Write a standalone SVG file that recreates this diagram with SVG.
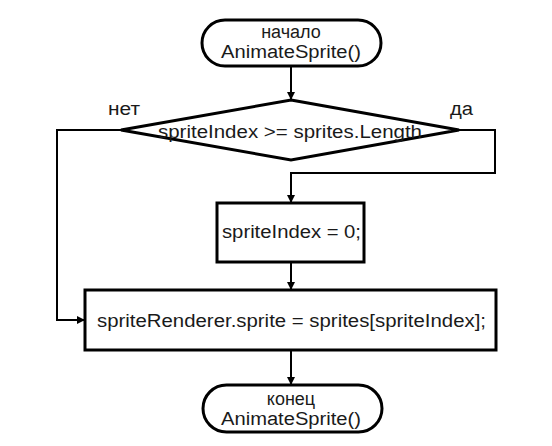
<svg xmlns="http://www.w3.org/2000/svg" width="552" height="446" viewBox="0 0 552 446">
<defs>
<style>
.box{fill:#fff;stroke:#000;stroke-width:3}
.term{fill:#fff;stroke:#000;stroke-width:3}
.conn{fill:none;stroke:#000;stroke-width:2}
text{font-family:"Liberation Sans",Arial,sans-serif;font-size:18px;fill:#1a1a1a}
.c{text-anchor:middle}
</style>
<marker id="arr" viewBox="0 0 8 8" refX="8" refY="4" markerWidth="4" markerHeight="4" orient="auto" markerUnits="strokeWidth">
<path d="M0,0 L8,4 L0,8 Z" fill="#000"/>
</marker>
</defs>
<rect width="552" height="446" fill="#fff"/>
<g id="connectors">
<path class="conn" d="M291,66 V100" marker-end="url(#arr)"/>
<path class="conn" d="M459,130 H495 V173 H291 V203" marker-end="url(#arr)"/>
<path class="conn" d="M121,130 H57 V320 H85" marker-end="url(#arr)"/>
<path class="conn" d="M291,262 V290" marker-end="url(#arr)"/>
<path class="conn" d="M291,350 V385" marker-end="url(#arr)"/>
</g>
<g id="start">
<rect class="term" x="202" y="20" width="179" height="46" rx="23" ry="23"/>
<text class="c" x="291" y="38">начало</text>
<text class="c" x="291" y="58" textLength="140" lengthAdjust="spacingAndGlyphs">AnimateSprite()</text>
</g>
<g id="decision">
<polygon class="box" points="291,100 459,130 291,160 121,130"/>
<text class="c" x="290" y="138" textLength="264" lengthAdjust="spacingAndGlyphs">spriteIndex &gt;= sprites.Length</text>
<text x="108" y="115" textLength="32" lengthAdjust="spacingAndGlyphs">нет</text>
<text x="450" y="115" textLength="23" lengthAdjust="spacingAndGlyphs">да</text>
</g>
<g id="reset">
<rect class="box" x="217" y="203" width="147" height="59"/>
<text x="222" y="238" textLength="139" lengthAdjust="spacingAndGlyphs">spriteIndex = 0;</text>
</g>
<g id="assign">
<rect class="box" x="85" y="290" width="411" height="60"/>
<text x="97" y="327" textLength="389" lengthAdjust="spacingAndGlyphs">spriteRenderer.sprite = sprites[spriteIndex];</text>
</g>
<g id="end">
<rect class="term" x="203" y="385" width="179" height="47" rx="23.5" ry="23.5"/>
<text class="c" x="291" y="405">конец</text>
<text class="c" x="291" y="425" textLength="140" lengthAdjust="spacingAndGlyphs">AnimateSprite()</text>
</g>
</svg>
